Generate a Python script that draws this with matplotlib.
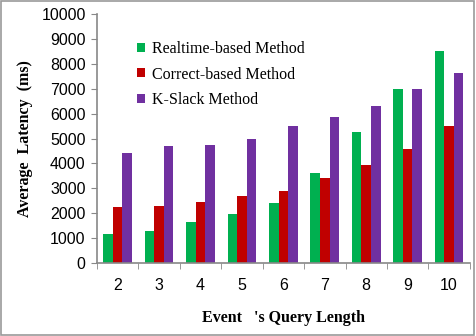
import matplotlib
matplotlib.use("Agg")
import matplotlib.pyplot as plt
import numpy as np
from matplotlib.patches import Rectangle

categories = ["2", "3", "4", "5", "6", "7", "8", "9", "10"]
realtime = [1150, 1300, 1650, 1980, 2400, 3600, 5250, 7000, 8500]
correct = [2250, 2300, 2450, 2700, 2900, 3400, 3950, 4600, 5500]
kslack = [4420, 4700, 4750, 4980, 5500, 5850, 6300, 6980, 7650]
series_names = ["Realtime-based Method", "Correct-based Method", "K-Slack Method"]
colors = ["#00B050", "#C00000", "#7030A0"]

fig = plt.figure(figsize=(4.77, 3.36), dpi=100)
ax = fig.add_axes([0.203, 0.217, 0.782, 0.741])

x = np.arange(len(categories))
w = 0.23
for i, (vals, name, c) in enumerate(zip([realtime, correct, kslack], series_names, colors)):
    ax.bar(x + (i - 1) * w, vals, width=w, color=c, label=name)

ax.set_xlim(-0.5, len(categories) - 0.5)
ax.set_ylim(0, 10000)
ax.set_yticks(np.arange(0, 10001, 1000))
ax.set_xticks(x)
ax.set_xticklabels(categories)
ax.set_xticks(np.arange(-0.5, len(categories), 1), minor=True)
ax.tick_params(axis='x', which='major', length=0, pad=11, labelsize=11.5)
ax.tick_params(axis='x', which='minor', length=4, color='#888888', direction='out')
ax.tick_params(axis='y', length=4, color='#888888', labelsize=11.5, pad=4)
for lab in ax.get_xticklabels() + ax.get_yticklabels():
    lab.set_fontfamily('Liberation Sans')
for s in ['top', 'right']:
    ax.spines[s].set_visible(False)
for s in ['left', 'bottom']:
    ax.spines[s].set_color('#888888')
    ax.spines[s].set_linewidth(1.2)

ax.set_ylabel("Average  Latency  (ms)", fontfamily='Liberation Serif', fontweight='bold', fontsize=11.5, labelpad=6)
ax.set_xlabel("Event   's Query Length", fontfamily='Liberation Serif', fontweight='bold', fontsize=11.5, labelpad=12)

leg = ax.legend(loc='upper left', bbox_to_anchor=(0.07, 0.95), frameon=False,
                prop={'family': 'Liberation Serif', 'size': 11.5},
                handlelength=0.5, handleheight=0.5, handletextpad=0.4, labelspacing=0.6)

fig.patches.append(Rectangle((0.003, 0.004), 0.99, 0.992, transform=fig.transFigure,
                             fill=False, edgecolor='#999999', linewidth=1.2))

fig.savefig("out.png", dpi=100)
